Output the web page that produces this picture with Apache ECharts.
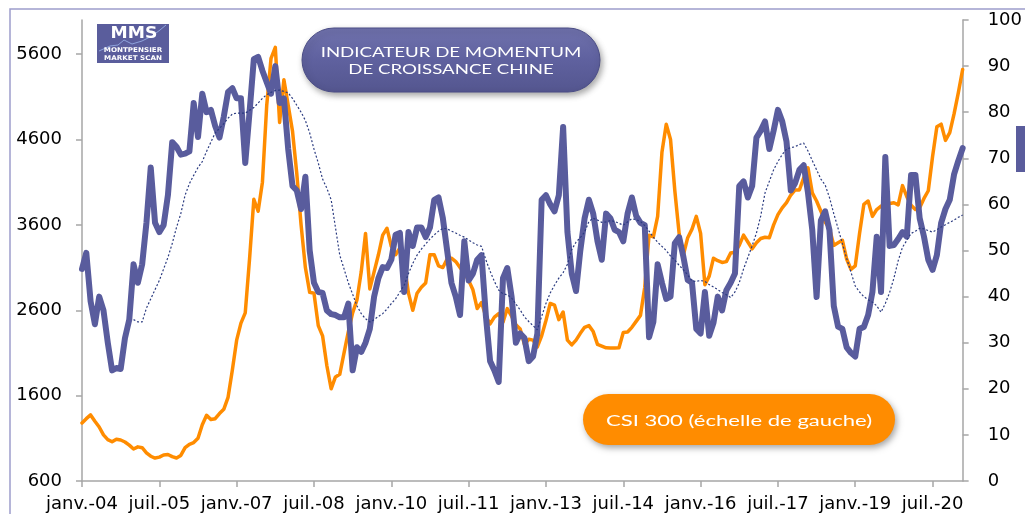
<!DOCTYPE html>
<html><head><meta charset="utf-8">
<script src="https://cdn.jsdelivr.net/npm/echarts@6/dist/echarts.min.js"></script>
<style>html,body{margin:0;padding:0;background:#fff}#c{width:1025px;height:514px}</style>
</head><body><div id="c"></div>
<script>
const monthNames = ['janv.','févr.','mars','avr.','mai','juin','juil.','août','sept.','oct.','nov.','déc.'];
const startYear = 2004, nPoints = 206;
const categories = [];
for (let i = 0; i < nPoints; i++) {
  const y = startYear + Math.floor(i / 12);
  categories.push(monthNames[i % 12] + '-' + String(y).slice(2));
}
const leftTicks = [600, 1600, 2600, 3600, 4600, 5600];

const csi300 = [1280,1330,1374,1300,1233,1140,1085,1060,1090,1080,1057,1020,975,1000,990,930,890,869,880,905,
910,885,870,900,990,1030,1050,1100,1260,1370,1320,1330,1390,1440,1580,1900,2250,2450,2570,3200,
3900,3760,4100,5000,5550,5680,4800,5300,5000,4700,4200,3600,3100,2810,2800,2420,2300,1950,1680,1819,
1850,2100,2350,2570,2720,3050,3500,2850,3050,3250,3480,3560,3350,3250,3330,3150,2800,2600,2800,2870,
2920,3250,3250,3120,3100,3200,3210,3170,3100,3040,2950,2840,2620,2690,2530,2440,2520,2560,2460,2620,
2530,2430,2380,2200,2260,2250,2170,2300,2480,2680,2660,2490,2580,2250,2194,2250,2330,2400,2420,2350,
2200,2180,2160,2159,2159,2160,2340,2346,2400,2470,2540,2870,3480,3460,3700,4450,4780,4600,4000,3500,
3250,3450,3550,3700,3500,2900,3000,3210,3180,3160,3170,3270,3280,3360,3480,3400,3320,3390,3440,3455,
3450,3600,3720,3800,3860,3950,4010,4010,4150,4268,3975,3880,3760,3630,3560,3360,3390,3420,3200,3080,
3120,3500,3840,3880,3700,3780,3820,3823,3850,3860,3835,4060,3930,3830,3780,3800,3910,4000,4400,4750,
4780,4590,4680,4900,5150,5420];

const momentum = [46,49.5,39,34,40,37,30,24,24.5,24.3,31,35,47,43,47,56,68,56,54,55.5,
62,73.5,72.5,70.8,71,71.5,82,74.6,84,80,80.5,77,74.5,79,84.4,85.2,83,83,69,80,
91.5,92,89,86.5,84,90,82,83,72,64,63,59,66,50,43,41,40.8,37,36.2,36,
35.5,35.5,38.5,24,29,28,30,33,40,44,46.4,46.2,48,53.4,53.8,41,54,51,55,55,
52.9,55,61,61.5,57,50,43,40,36,52,43.5,45,48,49,36,26,24,21.5,44,46.2,
40,30,32,31,26,27,32,61,62,60,58.5,62,76.8,54,45,41.2,50,57,61,58,
52,48,58,57,54.5,54,52,58,61.5,57.5,56,55.5,31.2,34.5,47,43,39.5,40,51.6,52.9,
48.6,43.6,43,33,32,41,31.5,34.3,40,37,41.4,43,45,64,65,61.5,64,74.5,76,78,
72,76,80.5,78,73.6,63,64.6,67.5,68.5,62.5,54.4,39.9,56.5,58.5,54.4,38,33.5,33,29,27.8,
27,33,33.4,36,41,53,41,70.3,51,51.2,52.5,54,53,66.4,66.4,57,53,48,45.8,49,
56,59,61,66.5,69.5,72.2];

const momentumAvg = [null,null,null,null,null,null,null,null,null,null,null,null,35,34.5,34.5,37.5,39.5,41.5,43.5,46,
48.5,51.5,55,58,62,64.5,66.3,68,69.3,71.5,73.5,75.5,76.5,77.5,78.7,79.6,79.8,79.8,79.8,80.4,
81,82,83,83.8,84.3,84.7,84.8,84.5,84.2,83,81.5,80,78.2,75.5,72,69,65.5,63.5,61,55,
49,46,43,40.5,38,36.3,35.2,34.5,35,35.7,36.3,37.3,38.5,39.5,41,42.5,45,47.2,49,50.3,
51.4,52.5,53.4,54.2,54.8,54.7,54.2,53.8,53.3,52.9,52.3,51.7,51.2,50.9,48,45.5,43.3,41.4,40.6,40.4,
39.7,38.4,37.1,35.6,34.6,33.7,32.8,35.7,38.5,40.8,42.5,44,45.2,47,50.2,51.8,52.8,54,56.3,57,
56.6,56.1,56.2,56.5,56.3,55.9,55.5,56.2,56.9,56.7,56.3,55.4,54.2,52.9,51.8,50.9,50,48.8,47.9,46.8,
45.8,44.7,43.4,43.3,43.5,43.3,42.6,42.1,41.5,40.9,40.4,39.8,41,43,46,48.5,51,53.8,57.5,62.5,
65,67.5,69.3,70.8,72,72.3,72.5,73,73.3,71.6,69.5,67.5,65.5,64.2,61.5,58,54.8,51.5,48.3,45.3,
42.3,41,40,39.3,38.8,38,36.6,38.5,40.9,44,47.8,50.7,52.2,53.7,54.2,54.8,54.7,54.3,54,54.5,
55.1,55.6,56.1,56.6,57.2,57.7];

const axisCol = '#a6a6a6';
const lab = {color:'#000', fontFamily:'DejaVu Sans', fontSize:18};
const plain = v => String(v);
const chart = echarts.init(document.getElementById('c'));
chart.setOption({
  backgroundColor:'#fff',
  animation:false,
  grid:{left:82, right:57, top:20, bottom:33},
  xAxis:{type:'category', data:categories, boundaryGap:false,
    axisLine:{lineStyle:{color:axisCol, width:1.5}},
    axisTick:{interval:17, length:6, lineStyle:{color:axisCol, width:1.5}},
    axisLabel:Object.assign({interval:17, margin:14}, lab),
    splitLine:{show:false}},
  yAxis:[
    {type:'value', min:600, max:6000, position:'left',
      axisLine:{show:true, lineStyle:{color:axisCol, width:1.5}},
      axisTick:{show:true, length:6, customValues:leftTicks, lineStyle:{color:axisCol, width:1.5}},
      axisLabel:Object.assign({margin:20, customValues:leftTicks, formatter:plain}, lab),
      splitLine:{show:false}},
    {type:'value', min:0, max:100, interval:10, position:'right',
      axisLine:{show:true, lineStyle:{color:axisCol, width:1.5}},
      axisTick:{show:true, length:6, lineStyle:{color:axisCol, width:1.5}},
      axisLabel:Object.assign({margin:25, align:'left', formatter:plain}, lab),
      splitLine:{show:false}}
  ],
  series:[
    {name:'CSI 300', type:'line', yAxisIndex:0, data:csi300, symbol:'none',
      lineStyle:{color:'#ff8c00', width:3.5, join:'round', cap:'round'}, z:2},
    {name:'Momentum', type:'line', yAxisIndex:1, data:momentum, symbol:'none',
      lineStyle:{color:'#595c9d', width:6, join:'round', cap:'round'}, z:3},
    {name:'Moyenne', type:'line', yAxisIndex:1, data:momentumAvg, symbol:'none',
      lineStyle:{color:'#2b3b80', width:1.2, type:[2,2]}, z:4}
  ],
  graphic:[
    {type:'rect', silent:true, z:1, shape:{x:10, y:9, width:1100, height:600},
      style:{fill:'none', stroke:'#9d9dcc', lineWidth:1.5}},
    {type:'rect', silent:true, z:10, shape:{x:97, y:24, width:72, height:39},
      style:{fill:'#5a5d9c'}},
    {type:'polyline', silent:true, z:11, shape:{points:[[99,51],[110,46],[118,45],[124,40],[132,44],[142,41],[152,36],[160,30],[166,25]]},
      style:{stroke:'#8ea3dc', fill:'none', lineWidth:1}},
    {type:'text', silent:true, z:12, x:134, y:34, scaleX:1.15,
      style:{text:'MMS', fill:'#fff', font:'bold 15px "DejaVu Sans"', align:'center', verticalAlign:'middle'}},
    {type:'text', silent:true, z:12, x:133, y:50, scaleX:1.1,
      style:{text:'MONTPENSIER', fill:'#fff', font:'bold 6.5px "DejaVu Sans"', align:'center', verticalAlign:'middle'}},
    {type:'text', silent:true, z:12, x:133, y:58, scaleX:1.1,
      style:{text:'MARKET SCAN', fill:'#fff', font:'bold 6.5px "DejaVu Sans"', align:'center', verticalAlign:'middle'}},
    {type:'rect', silent:true, z:10, shape:{x:302, y:28, width:298, height:64, r:32},
      style:{fill:new echarts.graphic.LinearGradient(0,0,0,1,[{offset:0,color:'#7072ad'},{offset:0.5,color:'#5f619f'},{offset:1,color:'#54568f'}]),
        stroke:'#4b4d86', lineWidth:1, shadowBlur:6, shadowOffsetX:2, shadowOffsetY:3, shadowColor:'rgba(0,0,0,0.35)'}},
    {type:'text', silent:true, z:12, x:451, y:52.5, scaleX:1.38,
      style:{text:'INDICATEUR DE MOMENTUM', fill:'#fff', font:'13.5px Lato', align:'center', verticalAlign:'middle'}},
    {type:'text', silent:true, z:12, x:451, y:69.5, scaleX:1.38,
      style:{text:'DE CROISSANCE CHINE', fill:'#fff', font:'13.5px Lato', align:'center', verticalAlign:'middle'}},
    {type:'rect', silent:true, z:10, shape:{x:583, y:394, width:312, height:51, r:25.5},
      style:{fill:'#ff8c00', shadowBlur:6, shadowOffsetX:2, shadowOffsetY:3, shadowColor:'rgba(0,0,0,0.35)'}},
    {type:'text', silent:true, z:12, x:739, y:421, scaleX:1.38,
      style:{text:'CSI 300 (échelle de gauche)', fill:'#fff', font:'16px Lato', align:'center', verticalAlign:'middle'}},
    {type:'rect', silent:true, z:10, shape:{x:1016, y:126, width:20, height:46},
      style:{fill:'#5a5c9c'}}
  ]
});
</script></body></html>
